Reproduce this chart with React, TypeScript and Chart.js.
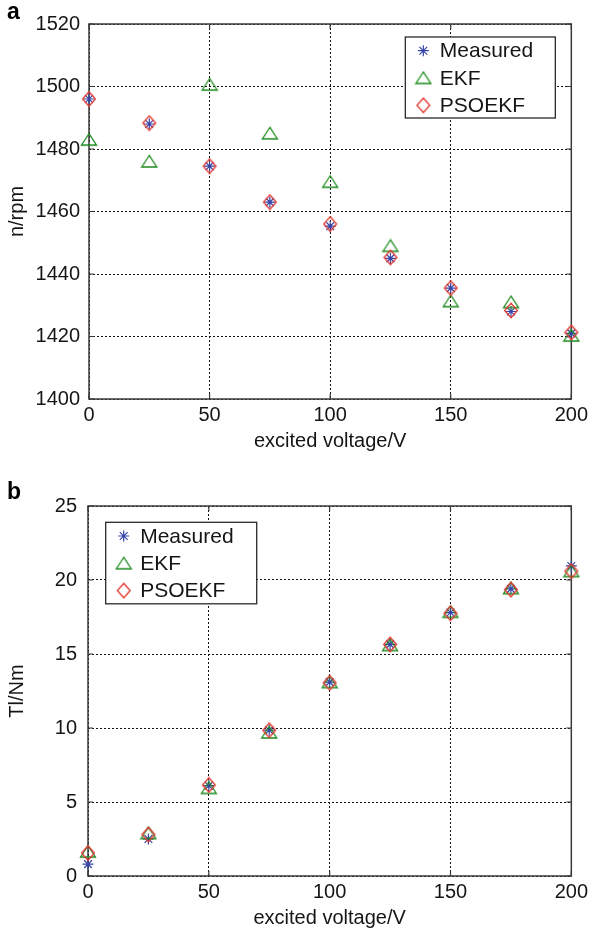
import React, { useEffect, useRef } from 'react';
import { Chart, registerables } from 'chart.js';

Chart.register(...registerables);

// ---------------- data ----------------
const voltage = [0, 25, 50, 75, 100, 125, 150, 175, 200];
const voltageTicks = [0, 50, 100, 150, 200];
const seriesNames = ['Measured', 'EKF', 'PSOEKF'];

const speedMeasured = [1496, 1488, 1474.5, 1463, 1455.3, 1445, 1435.5, 1428, 1421];
const speedEKF = [1483, 1476, 1500.6, 1485, 1469.5, 1449, 1431.3, 1431, 1420.3];
const speedPSOEKF = [1496, 1488.3, 1474.5, 1463, 1456, 1445.3, 1435.5, 1428.3, 1421.3];
const speedTicks = [1400, 1420, 1440, 1460, 1480, 1500, 1520];

const torqueMeasured = [0.8, 2.5, 6.1, 9.85, 13.1, 15.65, 17.8, 19.4, 20.95];
const torqueEKF = [1.65, 2.9, 5.95, 9.7, 13.1, 15.6, 17.85, 19.45, 20.6];
const torquePSOEKF = [1.55, 2.8, 6.15, 9.85, 13.05, 15.65, 17.75, 19.35, 20.6];
const torqueTicks = [0, 5, 10, 15, 20, 25];

// ---------------- style ----------------
const FONT = '"Liberation Sans", Arial, Helvetica, sans-serif';
const BLUE = '#3646a8';
const GREEN = '#1d8a1d';
const RED = '#e2362e';
const TEXT = '#151515';

function makeTriangle(color: string): HTMLCanvasElement {
  const c = document.createElement('canvas');
  c.width = 18;
  c.height = 15;
  const g = c.getContext('2d')!;
  g.strokeStyle = color;
  g.lineWidth = 1.3;
  g.beginPath();
  g.moveTo(9, 1.5);
  g.lineTo(1.5, 13);
  g.lineTo(16.5, 13);
  g.closePath();
  g.stroke();
  return c;
}

function makeDiamond(color: string): HTMLCanvasElement {
  const c = document.createElement('canvas');
  c.width = 16;
  c.height = 17;
  const g = c.getContext('2d')!;
  g.strokeStyle = color;
  g.lineWidth = 1.3;
  g.beginPath();
  g.moveTo(8, 1.2);
  g.lineTo(14.4, 8.5);
  g.lineTo(8, 15.8);
  g.lineTo(1.6, 8.5);
  g.closePath();
  g.stroke();
  return c;
}

function drawMarker(ctx: CanvasRenderingContext2D, ds: any, x: number, y: number) {
  const ps = ds.pointStyle;
  if (ps && typeof ps !== 'string') {
    ctx.drawImage(ps, x - ps.width / 2, y - ps.height / 2);
    return;
  }
  const r = ds.pointRadius;
  ctx.save();
  ctx.strokeStyle = ds.pointBorderColor;
  ctx.lineWidth = ds.pointBorderWidth;
  ctx.beginPath();
  const d = r * Math.SQRT1_2;
  ctx.moveTo(x - r, y); ctx.lineTo(x + r, y);
  ctx.moveTo(x, y - r); ctx.lineTo(x, y + r);
  ctx.moveTo(x - d, y - d); ctx.lineTo(x + d, y + d);
  ctx.moveTo(x - d, y + d); ctx.lineTo(x + d, y - d);
  ctx.stroke();
  ctx.restore();
}

const framePlugin = {
  id: 'matlabFrame',
  beforeDatasetsDraw(chart: any) {
    const { ctx, chartArea: a, scales } = chart;
    ctx.save();
    ctx.strokeStyle = '#3a3a3a';
    ctx.lineWidth = 1.5;
    ctx.strokeRect(a.left, a.top, a.right - a.left, a.bottom - a.top);
    ctx.lineWidth = 1.2;
    ctx.beginPath();
    const tl = 5;
    scales.x.ticks.forEach((t: any) => {
      const px = scales.x.getPixelForValue(t.value);
      ctx.moveTo(px, a.bottom); ctx.lineTo(px, a.bottom - tl);
      ctx.moveTo(px, a.top); ctx.lineTo(px, a.top + tl);
    });
    scales.y.ticks.forEach((t: any) => {
      const py = scales.y.getPixelForValue(t.value);
      ctx.moveTo(a.left, py); ctx.lineTo(a.left + tl, py);
      ctx.moveTo(a.right, py); ctx.lineTo(a.right - tl, py);
    });
    ctx.stroke();
    ctx.restore();
  },
};

const boxLegendPlugin = {
  id: 'boxLegend',
  afterDraw(chart: any, _args: any, opts: any) {
    const { ctx, chartArea: a } = chart;
    const w = opts.w, h = opts.h;
    const left = opts.side === 'right' ? a.right - opts.inset - w : a.left + opts.inset;
    const top = a.top + opts.top;
    ctx.save();
    ctx.fillStyle = '#ffffff';
    ctx.fillRect(left, top, w, h);
    ctx.strokeStyle = '#2a2a2a';
    ctx.lineWidth = 1.3;
    ctx.strokeRect(left, top, w, h);
    ctx.font = `21px ${FONT}`;
    ctx.textBaseline = 'middle';
    ctx.textAlign = 'left';
    ctx.fillStyle = TEXT;
    chart.data.datasets.forEach((ds: any, i: number) => {
      const cy = top + 13.7 + i * 27.3;
      drawMarker(ctx, ds, left + 18, cy);
      ctx.fillText(ds.label, left + 34.5, cy + 1);
    });
    ctx.restore();
  },
};

type PanelProps = {
  height: number;
  values: number[][];
  yTicks: number[];
  yTitle: string;
  padTop: number;
  yWidth: number;
  xHeight: number;
  yTickPad: number;
  xTitlePadBottom: number;
  legend: any;
};

function Panel(p: PanelProps) {
  const ref = useRef<HTMLCanvasElement | null>(null);
  useEffect(() => {
    const canvas = ref.current!;
    const tri = makeTriangle(GREEN);
    const dia = makeDiamond(RED);
    const styles: any[] = [
      { pointStyle: 'star', pointRadius: 5.5, pointBorderColor: BLUE, pointBorderWidth: 1.2, order: 3 },
      { pointStyle: tri, pointRadius: 8, pointBorderColor: GREEN, pointBorderWidth: 1.3, order: 2 },
      { pointStyle: dia, pointRadius: 8, pointBorderColor: RED, pointBorderWidth: 1.3, order: 1 },
    ];
    const datasets = p.values.map((vals, i) => ({
      label: seriesNames[i],
      data: voltage.map((v, j) => ({ x: v, y: vals[j] })),
      showLine: false,
      pointBackgroundColor: 'rgba(0,0,0,0)',
      pointHoverRadius: styles[i].pointRadius,
      clip: false,
      ...styles[i],
    }));
    const tickFont = { family: FONT, size: 20 };
    const chart = new Chart(canvas, {
      type: 'scatter',
      data: { datasets },
      options: {
        animation: false,
        responsive: false,
        events: [],
        layout: { padding: { top: p.padTop, right: 17, left: 0, bottom: 0 } },
        plugins: {
          legend: { display: false },
          tooltip: { enabled: false },
          boxLegend: p.legend,
        } as any,
        scales: {
          x: {
            type: 'linear',
            min: voltageTicks[0],
            max: voltageTicks[voltageTicks.length - 1],
            afterBuildTicks: (s: any) => { s.ticks = voltageTicks.map((v) => ({ value: v })); },
            afterFit: (s: any) => { s.height = p.xHeight; },
            grid: { color: '#111', lineWidth: 1, drawTicks: false },
            border: { display: false, dash: [2, 2] },
            ticks: { font: tickFont, color: TEXT, padding: 4, maxRotation: 0, callback: (v: any) => String(v) },
            title: { display: true, text: 'excited voltage/V', font: { family: FONT, size: 20 }, color: TEXT, padding: { top: 0, bottom: p.xTitlePadBottom } },
          },
          y: {
            type: 'linear',
            min: p.yTicks[0],
            max: p.yTicks[p.yTicks.length - 1],
            afterBuildTicks: (s: any) => { s.ticks = p.yTicks.map((v) => ({ value: v })); },
            afterFit: (s: any) => { s.width = p.yWidth; },
            grid: { color: '#111', lineWidth: 1, drawTicks: false },
            border: { display: false, dash: [2, 2] },
            ticks: { font: tickFont, color: TEXT, padding: p.yTickPad, callback: (v: any) => String(v) },
            title: { display: true, text: p.yTitle, font: { family: FONT, size: 20 }, color: TEXT, padding: { top: 5.5, bottom: 0 } },
          },
        },
      } as any,
      plugins: [framePlugin, boxLegendPlugin],
    });
    return () => chart.destroy();
  }, []);
  return <canvas ref={ref} width={592} height={p.height} style={{ display: 'block', width: 592, height: p.height }} />;
}

const panelLetter: React.CSSProperties = {
  position: 'absolute',
  left: 7,
  fontFamily: FONT,
  fontWeight: 'bold',
  fontSize: 23,
  lineHeight: '23px',
  color: '#000',
};

export default function App() {
  return (
    <div style={{ position: 'absolute', left: 0, top: 0, width: 592, height: 939, background: '#fff' }}>
      <div style={{ position: 'absolute', left: 0, top: 0 }}>
        <Panel
          height={460}
          values={[speedMeasured, speedEKF, speedPSOEKF]}
          yTicks={speedTicks}
          yTitle="n/rpm"
          padTop={24}
          yWidth={89}
          xHeight={61}
          yTickPad={9}
          xTitlePadBottom={7}
          legend={{ side: 'right', inset: 16, top: 13, w: 150, h: 81 }}
        />
      </div>
      <div style={{ position: 'absolute', left: 0, top: 460 }}>
        <Panel
          height={479}
          values={[torqueMeasured, torqueEKF, torquePSOEKF]}
          yTicks={torqueTicks}
          yTitle="Tl/Nm"
          padTop={46}
          yWidth={88}
          xHeight={63}
          yTickPad={11}
          xTitlePadBottom={9}
          legend={{ side: 'left', inset: 17.7, top: 16.3, w: 151, h: 81.5 }}
        />
      </div>
      <div style={{ ...panelLetter, top: 0 }}>a</div>
      <div style={{ ...panelLetter, top: 480 }}>b</div>
    </div>
  );
}
